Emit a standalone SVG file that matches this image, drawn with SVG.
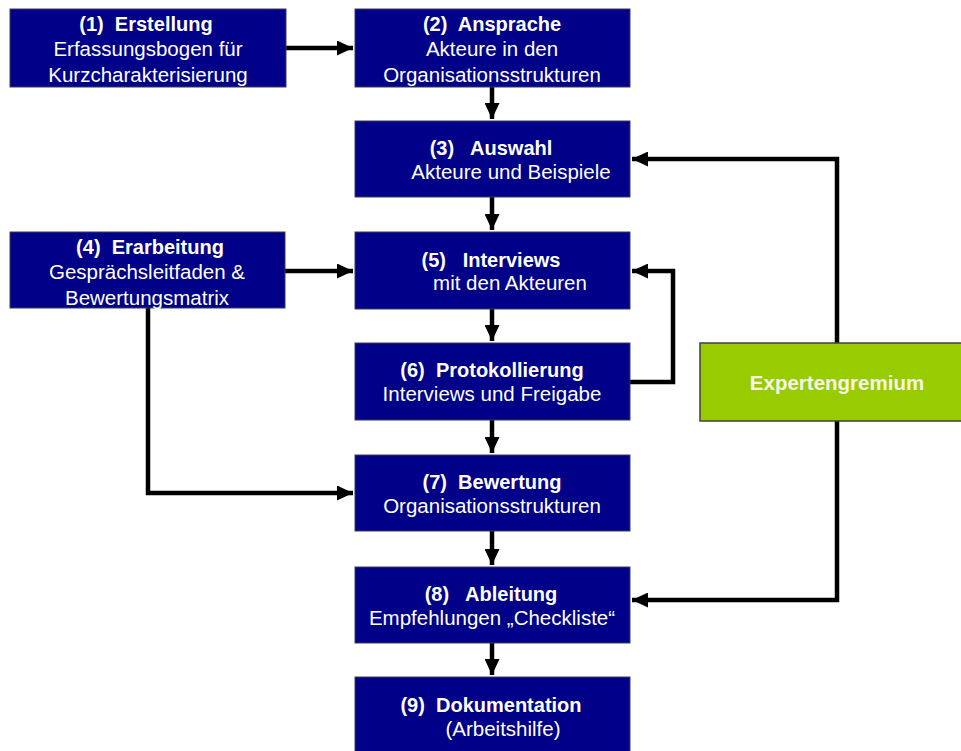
<svg xmlns="http://www.w3.org/2000/svg" width="961" height="751" viewBox="0 0 961 751">
<defs>
<style>
.box{fill:#000088;stroke:#3c3c5a;stroke-width:1}
.green{fill:#99cc00;stroke:#404040;stroke-width:1.5}
.t{font-family:"Liberation Sans",Arial,sans-serif;font-weight:bold;font-size:20px;fill:#ffffff;text-anchor:middle;white-space:pre}
.s{font-family:"Liberation Sans",Arial,sans-serif;font-size:20.5px;fill:#ffffff;text-anchor:middle;white-space:pre}
.c{fill:none;stroke:#000000;stroke-width:4.5;stroke-linejoin:miter}
</style>
<marker id="ah" markerUnits="userSpaceOnUse" markerWidth="17" markerHeight="15" refX="16" refY="7.5" orient="auto">
<path d="M0,0 L16,7.5 L0,15 Z" fill="#000000"/>
</marker>
</defs>
<rect width="961" height="751" fill="#ffffff"/>
<g id="connectors">
<path class="c" d="M286,48 H353" marker-end="url(#ah)"/>
<path class="c" d="M492,87 V119" marker-end="url(#ah)"/>
<path class="c" d="M492,197 V230" marker-end="url(#ah)"/>
<path class="c" d="M285,271 H353" marker-end="url(#ah)"/>
<path class="c" d="M492,309 V341" marker-end="url(#ah)"/>
<path class="c" d="M630,382 H673 V271 H632" marker-end="url(#ah)"/>
<path class="c" d="M492,420 V453" marker-end="url(#ah)"/>
<path class="c" d="M148,308 V493 H353" marker-end="url(#ah)"/>
<path class="c" d="M492,531 V565" marker-end="url(#ah)"/>
<path class="c" d="M492,643 V675" marker-end="url(#ah)"/>
<path class="c" d="M837,343 V159 H632" marker-end="url(#ah)"/>
<path class="c" d="M837,421 V600 H632" marker-end="url(#ah)"/>
</g>
<g id="n1">
<rect class="box" x="10" y="9" width="276" height="78"/>
<text class="t" x="146" y="31">(1)  Erstellung</text>
<text class="s" x="148" y="56">Erfassungsbogen für</text>
<text class="s" x="148" y="82">Kurzcharakterisierung</text>
</g>
<g id="n2">
<rect class="box" x="355" y="9" width="275" height="78"/>
<text class="t" x="492" y="31">(2)  Ansprache</text>
<text class="s" x="492" y="56">Akteure in den</text>
<text class="s" x="492" y="82">Organisationsstrukturen</text>
</g>
<g id="n3">
<rect class="box" x="355" y="121" width="275" height="76"/>
<text class="t" x="491" y="155">(3)   Auswahl</text>
<text class="s" x="511" y="179">Akteure und Beispiele</text>
</g>
<g id="n4">
<rect class="box" x="10" y="232" width="275" height="76"/>
<text class="t" x="150" y="254">(4)  Erarbeitung</text>
<text class="s" x="147" y="279">Gesprächsleitfaden &amp;</text>
<text class="s" x="147" y="305">Bewertungsmatrix</text>
</g>
<g id="n5">
<rect class="box" x="355" y="232" width="275" height="77"/>
<text class="t" x="491" y="267">(5)   Interviews</text>
<text class="s" x="510" y="290">mit den Akteuren</text>
</g>
<g id="n6">
<rect class="box" x="355" y="343" width="275" height="77"/>
<text class="t" x="492" y="377">(6)  Protokollierung</text>
<text class="s" x="492" y="401">Interviews und Freigabe</text>
</g>
<g id="n7">
<rect class="box" x="355" y="455" width="275" height="76"/>
<text class="t" x="492" y="489">(7)  Bewertung</text>
<text class="s" x="492" y="513">Organisationsstrukturen</text>
</g>
<g id="n8">
<rect class="box" x="355" y="567" width="275" height="76"/>
<text class="t" x="491" y="601">(8)   Ableitung</text>
<text class="s" x="492" y="625">Empfehlungen „Checkliste“</text>
</g>
<g id="n9">
<rect class="box" x="355" y="677" width="275" height="80"/>
<text class="t" x="491" y="712">(9)  Dokumentation</text>
<text class="s" x="503" y="736">(Arbeitshilfe)</text>
</g>
<g id="expert">
<rect class="green" x="700" y="343" width="280" height="78"/>
<text class="t" x="837" y="390" style="font-size:20.5px;fill:#f4f4ec">Expertengremium</text>
</g>
</svg>
